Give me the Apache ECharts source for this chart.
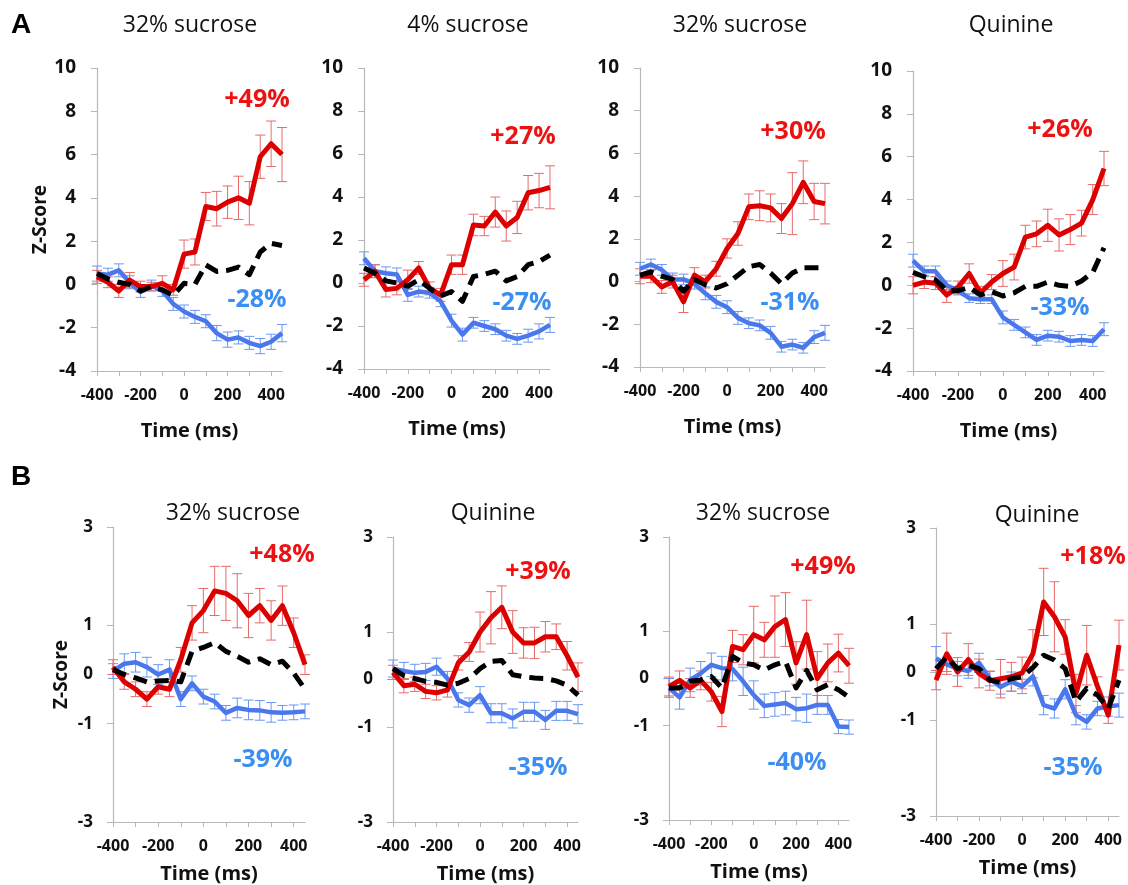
<!DOCTYPE html>
<html><head><meta charset="utf-8">
<script src="https://cdn.jsdelivr.net/npm/echarts@6/dist/echarts.min.js"></script>
<style>html,body{margin:0;padding:0;background:#fff}#c{width:1128px;height:885px}</style>
</head><body><div id="c"></div>
<script>
const time = [-400,-350,-300,-250,-200,-150,-100,-50,0,50,100,150,200,250,300,350,400,450];
const xLabelValues = [-400,-200,0,200,400];
const xTickValues = [-400,-300,-200,-100,0,100,200,300,400];
const yTicksA = [-4,-2,0,2,4,6,8,10];
const yTicksB = [-3,-1,0,1,3];

const titles = ['32% sucrose','4% sucrose','32% sucrose','Quinine','32% sucrose','Quinine','32% sucrose','Quinine'];
const upLabels = ['+49%','+27%','+30%','+26%','+48%','+39%','+49%','+18%'];
const downLabels = ['-28%','-27%','-31%','-33%','-39%','-35%','-40%','-35%'];

// Panel A1
const A1_red = [0.35,0.1,-0.3,0.2,-0.1,-0.1,0.05,-0.25,1.4,1.5,3.6,3.5,3.8,4.0,3.75,5.9,6.5,6.0];
const A1_redErr = [0.3,0.25,0.3,0.35,0.25,0.2,0.35,0.25,0.65,0.6,0.65,0.8,0.75,1.0,1.0,1.0,1.05,1.25];
const A1_blue = [0.5,0.45,0.65,0.1,-0.35,-0.05,-0.3,-0.9,-1.25,-1.5,-1.7,-2.25,-2.55,-2.45,-2.7,-2.85,-2.65,-2.25];
const A1_blueErr = [0.35,0.3,0.3,0.3,0.25,0.25,0.25,0.3,0.3,0.3,0.3,0.35,0.35,0.3,0.3,0.35,0.35,0.4];
const A1_black = [0.5,0.25,0.1,0,-0.3,-0.1,-0.25,-0.5,0.05,0,0.9,0.6,0.65,0.8,0.45,1.5,1.9,1.8];
// Panel A2
const A2_red = [0.15,0.55,-0.3,-0.25,0.15,0.7,-0.25,-0.55,0.85,0.85,2.7,2.65,3.3,2.65,3.05,4.2,4.3,4.45];
const A2_redErr = [0.3,0.3,0.35,0.3,0.45,0.3,0.3,0.3,0.45,0.45,0.5,0.45,0.7,0.7,0.75,0.8,0.8,1.0];
const A2_blue = [1.15,0.55,0.45,0.4,-0.55,-0.4,-0.45,-0.85,-1.75,-2.4,-1.85,-2.0,-2.15,-2.45,-2.6,-2.45,-2.25,-1.95];
const A2_blueErr = [0.3,0.3,0.3,0.3,0.3,0.25,0.25,0.25,0.3,0.3,0.25,0.25,0.25,0.25,0.25,0.3,0.35,0.35];
const A2_black = [0.7,0.45,0.1,0,-0.15,0.15,-0.25,-0.6,-0.4,-0.85,0.3,0.4,0.55,0.1,0.3,0.85,1.0,1.3];
// Panel A3
const A3_red = [0.25,0.25,-0.25,0,-0.95,0.3,0,0.6,1.55,2.25,3.5,3.55,3.45,2.95,3.65,4.65,3.75,3.65];
const A3_redErr = [0.35,0.3,0.3,0.3,0.5,0.35,0.3,0.35,0.45,0.55,0.6,0.7,0.65,0.7,1.45,1.0,0.85,0.95];
const A3_blue = [0.6,0.8,0.55,0.1,0.1,-0.1,-0.55,-0.95,-1.2,-1.7,-1.95,-2.05,-2.4,-3.05,-2.95,-3.1,-2.6,-2.4];
const A3_blueErr = [0.3,0.25,0.25,0.3,0.25,0.25,0.3,0.3,0.3,0.3,0.25,0.25,0.3,0.25,0.25,0.25,0.3,0.35];
const A3_black = [0.3,0.45,0.25,0.1,-0.45,0.1,-0.15,-0.3,-0.1,0.3,0.7,0.8,0.4,-0.1,0.4,0.65,0.65,0.65];
// Panel A4
const A4_red = [0,0.15,0.1,-0.45,-0.1,0.55,-0.35,0.15,0.55,0.85,2.25,2.4,2.8,2.35,2.6,2.9,4.0,5.45];
const A4_redErr = [0.4,0.3,0.3,0.35,0.3,0.45,0.3,0.35,0.6,0.6,0.55,0.6,0.75,0.75,0.7,0.6,0.7,0.8];
const A4_blue = [1.15,0.65,0.65,0,-0.25,-0.6,-0.65,-0.65,-1.5,-1.85,-2.2,-2.55,-2.35,-2.4,-2.6,-2.55,-2.6,-2.05];
const A4_blueErr = [0.3,0.25,0.25,0.2,0.2,0.2,0.2,0.2,0.3,0.25,0.25,0.25,0.25,0.25,0.25,0.25,0.25,0.3];
const A4_black = [0.6,0.4,0.25,-0.25,-0.25,-0.1,-0.45,-0.3,-0.5,-0.35,-0.05,-0.05,0.15,0,-0.05,0.2,0.6,1.75];
// Panel B1
const B1_red = [0.15,-0.15,-0.3,-0.5,-0.25,-0.3,0.3,1.05,1.3,1.7,1.65,1.5,1.2,1.4,1.1,1.4,0.85,0.2];
const B1_redErr = [0.15,0.15,0.15,0.15,0.15,0.15,0.25,0.35,0.45,0.5,0.55,0.55,0.45,0.35,0.4,0.4,0.3,0.2];
const B1_blue = [0.07,0.22,0.25,0.15,0,0.1,-0.5,-0.18,-0.45,-0.55,-0.78,-0.68,-0.72,-0.73,-0.77,-0.78,-0.77,-0.75];
const B1_blueErr = [0.15,0.2,0.2,0.2,0.2,0.2,0.15,0.15,0.15,0.15,0.15,0.2,0.2,0.2,0.2,0.15,0.15,0.15];
const B1_black = [0.1,0,-0.07,-0.15,-0.13,-0.12,-0.15,0.47,0.55,0.65,0.47,0.37,0.25,0.32,0.2,0.27,0.03,-0.3];
// Panel B2
const B2_red = [0.15,-0.13,-0.1,-0.25,-0.28,-0.22,0.35,0.58,1.0,1.3,1.52,1.0,0.77,0.77,0.9,0.9,0.5,0.05];
const B2_redErr = [0.15,0.15,0.15,0.15,0.15,0.15,0.15,0.2,0.42,0.55,0.45,0.45,0.32,0.33,0.32,0.27,0.3,0.3];
const B2_blue = [0.23,0.18,0.14,0.16,0.27,0.02,-0.43,-0.54,-0.33,-0.71,-0.71,-0.82,-0.68,-0.68,-0.85,-0.66,-0.66,-0.73];
const B2_blueErr = [0.18,0.18,0.18,0.18,0.18,0.15,0.15,0.15,0.18,0.2,0.2,0.2,0.2,0.2,0.2,0.2,0.2,0.2];
const B2_black = [0.23,0.08,0.02,-0.04,-0.06,-0.12,-0.08,0.02,0.23,0.38,0.4,0.1,0.06,0.03,0.02,-0.03,-0.12,-0.33];
// Panel B3
const B3_red = [-0.17,-0.04,-0.2,-0.04,-0.28,-0.7,0.68,0.61,0.93,0.82,1.1,1.25,0.33,0.93,0,0.33,0.54,0.27];
const B3_redErr = [0.2,0.2,0.2,0.2,0.2,0.32,0.34,0.32,0.6,0.37,0.65,0.57,0.45,0.73,0.57,0.4,0.4,0.37];
const B3_blue = [-0.2,-0.4,-0.03,0.11,0.29,0.22,0.2,-0.06,-0.35,-0.58,-0.55,-0.52,-0.65,-0.63,-0.56,-0.56,-1.02,-1.03];
const B3_blueErr = [0.2,0.25,0.25,0.25,0.25,0.25,0.25,0.3,0.3,0.25,0.25,0.25,0.25,0.3,0.2,0.2,0.15,0.15];
const B3_black = [-0.2,-0.2,-0.06,-0.03,0.04,-0.2,0.47,0.33,0.29,0.18,0.29,0.36,-0.2,0.17,-0.24,-0.13,-0.24,-0.4];
// Panel B4
const B4_red = [-0.17,0.38,0,0.26,-0.03,-0.18,-0.14,-0.1,-0.02,0.38,1.46,1.15,0.73,-0.45,0.35,-0.3,-0.9,0.56];
const B4_redErr = [0.2,0.43,0.3,0.33,0.3,0.2,0.4,0.3,0.33,0.5,0.7,0.73,0.36,0.4,0.62,0.2,0.17,0.52];
const B4_blue = [0.28,0.16,0.07,0.02,0.19,-0.14,-0.31,-0.2,-0.3,-0.09,-0.69,-0.76,-0.36,-0.9,-1.04,-0.76,-0.72,-0.69];
const B4_blueErr = [0.25,0.15,0.15,0.15,0.2,0.15,0.15,0.2,0.15,0.2,0.2,0.2,0.2,0.2,0.15,0.15,0.2,0.25];
const B4_black = [0.07,0.31,0.07,0.14,0.07,-0.17,-0.22,-0.14,-0.1,0.09,0.35,0.25,0.07,-0.62,-0.34,-0.48,-0.76,-0.17];

const panelData = [
  [A1_red,A1_redErr,A1_blue,A1_blueErr,A1_black],
  [A2_red,A2_redErr,A2_blue,A2_blueErr,A2_black],
  [A3_red,A3_redErr,A3_blue,A3_blueErr,A3_black],
  [A4_red,A4_redErr,A4_blue,A4_blueErr,A4_black],
  [B1_red,B1_redErr,B1_blue,B1_blueErr,B1_black],
  [B2_red,B2_redErr,B2_blue,B2_blueErr,B2_black],
  [B3_red,B3_redErr,B3_blue,B3_blueErr,B3_black],
  [B4_red,B4_redErr,B4_blue,B4_blueErr,B4_black]
];

// layout (pixels)
const grids = [
  {left:97,top:68,width:185,height:303},
  {left:364,top:68,width:186,height:301},
  {left:640,top:68,width:185,height:299},
  {left:913,top:71,width:191,height:300},
  {left:113,top:527,width:192,height:296},
  {left:393,top:537,width:185,height:287},
  {left:669,top:537,width:180,height:283},
  {left:936,top:528,width:183,height:288}
];
const titlePos = [[190,25],[468,25],[740,25],[1011,25],[233,513],[493,513],[763,513],[1037,515]];
const upPos = [[257,100],[523,137],[793,132],[1060,130],[282,555],[538,572],[823,567],[1093,557]];
const downPos = [[257,300],[522,303],[790,303],[1060,308],[263,760],[538,768],[797,763],[1073,768]];

const FONT = '"Open Sans", sans-serif';
const RED = '#dd0000', RED_ERR = '#e86a6a', BLUE = '#4a78ec', BLUE_ERR = '#6a98f2';
const RED_TXT = '#ee1111', BLUE_TXT = '#3b8ef2', AXIS = '#b8b8b8';

function errSeries(idx, vals, errs, color) {
  return {
    type: 'custom', xAxisIndex: idx, yAxisIndex: idx, z: 1, silent: true,
    data: time.map((t,i)=>[t, vals[i], errs[i]]),
    renderItem: function(params, api) {
      const x = api.value(0), y = api.value(1), e = api.value(2);
      const top = api.coord([x, y+e]), bot = api.coord([x, y-e]);
      const hw = 5;
      const st = {stroke: color, lineWidth: 1};
      return {type:'group', children:[
        {type:'line', shape:{x1:top[0],y1:top[1],x2:bot[0],y2:bot[1]}, style:st},
        {type:'line', shape:{x1:top[0]-hw,y1:top[1],x2:top[0]+hw,y2:top[1]}, style:st},
        {type:'line', shape:{x1:bot[0]-hw,y1:bot[1],x2:bot[0]+hw,y2:bot[1]}, style:st}
      ]};
    }
  };
}
function lineSeries(idx, vals, color, width, dashed, z) {
  return {
    type:'line', xAxisIndex: idx, yAxisIndex: idx, z: z, silent: true,
    data: time.map((t,i)=>[t, vals[i]]), showSymbol:false, symbol:'none',
    lineStyle:{color: color, width: width, type: dashed ? [14,8] : 'solid', join:'round'}
  };
}

const option = {
  animation:false,
  backgroundColor:'#fff',
  grid: grids.map(g=>Object.assign({containLabel:false}, g)),
  xAxis: grids.map((g,i)=>({
    type:'value', gridIndex:i, min:-400, max:450,
    axisLine:{show:true, onZero:false, lineStyle:{color:AXIS, width:1.2}},
    axisTick:{show:true, customValues:xTickValues, length:5, lineStyle:{color:AXIS}},
    axisLabel:{customValues:xLabelValues, color:'#111', fontWeight:'bold', fontSize:16, fontFamily:FONT, margin:16},
    splitLine:{show:false},
    name:'Time (ms)', nameLocation:'middle', nameGap: i<4 ? 50 : 42,
    nameTextStyle:{color:'#111', fontWeight:'bold', fontSize:20, fontFamily:FONT}
  })),
  yAxis: grids.map((g,i)=>{
    const isA = i<4;
    const ax = {
      type:'value', gridIndex:i,
      min: isA ? -4 : -3, max: isA ? 10 : 3,
      axisLine:{show:true, onZero:false, lineStyle:{color:AXIS, width:1.2}},
      axisTick:{show:true, length:6, lineStyle:{color:AXIS}},
      axisLabel:{color:'#111', fontWeight:'bold', fontSize: isA ? 19 : 17, fontFamily:FONT, margin: isA ? 21 : 20},
      splitLine:{show:false}
    };
    if (isA) { ax.interval = 2; }
    else { ax.axisLabel.customValues = yTicksB; ax.axisTick.customValues = yTicksB; }
    if (i===0 || i===4) {
      ax.name = 'Z-Score'; ax.nameLocation='middle'; ax.nameGap = isA ? 46 : 42;
      ax.nameTextStyle = {color:'#111', fontWeight:'bold', fontSize:19, fontFamily:FONT};
    }
    return ax;
  }),
  series: [],
  graphic: []
};

panelData.forEach((d,i)=>{
  option.series.push(errSeries(i, d[2], d[3], BLUE_ERR));
  option.series.push(errSeries(i, d[0], d[1], RED_ERR));
  option.series.push(lineSeries(i, d[2], BLUE, 4.5, false, 3));
  option.series.push(lineSeries(i, d[0], RED, 5, false, 4));
  option.series.push(lineSeries(i, d[4], '#000', 5, true, 5));
  option.graphic.push({type:'text', x:titlePos[i][0], y:titlePos[i][1], style:{text:titles[i], fill:'#111', font:'23px '+FONT, textAlign:'center', textVerticalAlign:'middle'}});
  option.graphic.push({type:'text', x:upPos[i][0], y:upPos[i][1], style:{text:upLabels[i], fill:RED_TXT, font:'bold 25px '+FONT, textAlign:'center', textVerticalAlign:'middle'}});
  option.graphic.push({type:'text', x:downPos[i][0], y:downPos[i][1], style:{text:downLabels[i], fill:BLUE_TXT, font:'bold 25px '+FONT, textAlign:'center', textVerticalAlign:'middle'}});
});
option.graphic.push({type:'text', x:21, y:25, style:{text:'A', fill:'#000', font:'bold 28px Arial, "Liberation Sans", sans-serif', textAlign:'center', textVerticalAlign:'middle'}});
option.graphic.push({type:'text', x:21, y:477, style:{text:'B', fill:'#000', font:'bold 28px Arial, "Liberation Sans", sans-serif', textAlign:'center', textVerticalAlign:'middle'}});

const chart = echarts.init(document.getElementById('c'), null, {renderer:'canvas'});
chart.setOption(option);
</script></body></html>
